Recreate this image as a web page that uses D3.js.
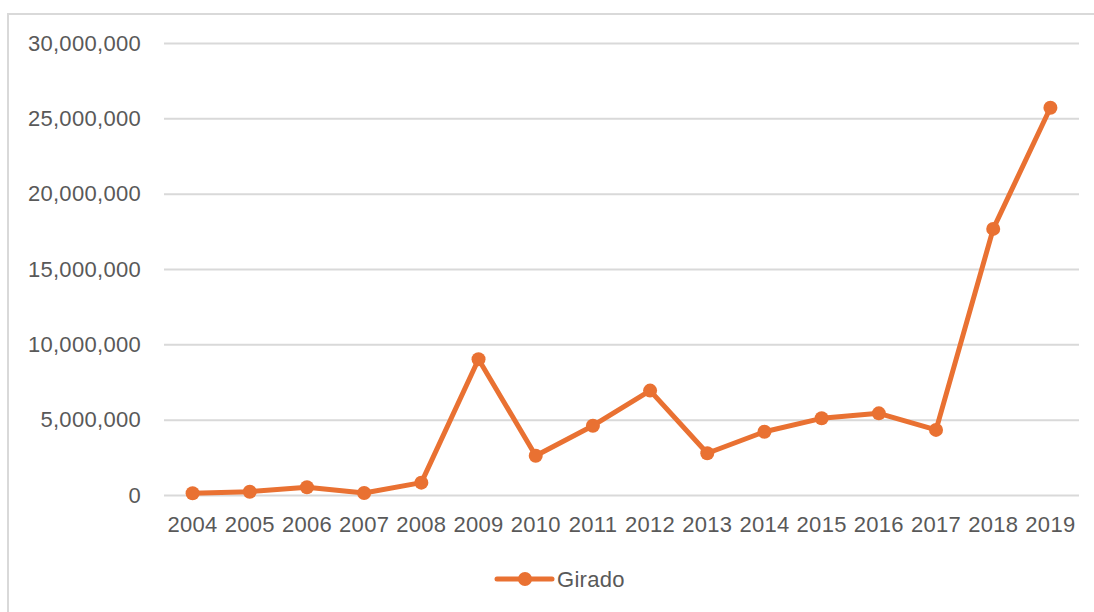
<!DOCTYPE html>
<html>
<head>
<meta charset="utf-8">
<script src="https://cdn.jsdelivr.net/npm/d3@7"></script>
<style>
body{margin:0;background:#fff;}
svg{display:block;font-family:"Liberation Sans",Arial,sans-serif;}
.grid line{stroke:#d9d9d9;stroke-width:2;}
.grid path{display:none;}
.axis path,.axis line{display:none;}
.axis text{fill:#595959;font-size:22px;letter-spacing:0.3px;}
</style>
</head>
<body>
<svg id="svg" width="1094" height="612"></svg>
<script>
var years=['2004','2005','2006','2007','2008','2009','2010','2011','2012','2013','2014','2015','2016','2017','2018','2019'];
var girado=[120000,220000,510000,130000,820000,9010000,2610000,4600000,6930000,2770000,4200000,5090000,5420000,4320000,17660000,25700000];
var yTicks=[0,5000000,10000000,15000000,20000000,25000000,30000000];
var seriesName='Girado';

var svg=d3.select("#svg");
var color='#E97132';

var padding={top:43,right:15,bottom:117,left:164};
var chartArea={
    "width":1094-padding.left-padding.right,
    "height":612-padding.top-padding.bottom
};

// chart frame (only top and left show in the picture)
svg.append("path")
    .attr("d","M8,612V14H1094")
    .attr("fill","none")
    .attr("stroke","#d9d9d9")
    .attr("stroke-width",2);

var yScale=d3.scaleLinear()
    .domain([0,30000000])
    .range([chartArea.height,0]);

var xScale=d3.scaleBand()
    .domain(years)
    .range([0,chartArea.width]);

var g=svg.append("g")
    .attr('transform','translate('+padding.left+','+padding.top+')');

g.append("g")
    .attr("class","grid")
    .call(d3.axisLeft(yScale)
        .tickValues(yTicks)
        .tickSize(-chartArea.width)
        .tickFormat(""));

g.append("g")
    .attr("class","axis")
    .call(d3.axisLeft(yScale)
        .tickValues(yTicks)
        .tickSize(0)
        .tickPadding(23)
        .tickFormat(d3.format(",")));

g.append("g")
    .attr("class","axis")
    .attr('transform','translate(0,'+chartArea.height+')')
    .call(d3.axisBottom(xScale).tickSize(0).tickPadding(21));

var line=d3.line()
    .x(function(d,i){return xScale(years[i])+xScale.bandwidth()/2;})
    .y(function(d){return yScale(d);});

g.append("path")
    .datum(girado)
    .attr("d",line)
    .attr("fill","none")
    .attr("stroke",color)
    .attr("stroke-width",5)
    .attr("stroke-linejoin","round");

g.selectAll("circle")
    .data(girado)
    .enter().append("circle")
    .attr("cx",function(d,i){return xScale(years[i])+xScale.bandwidth()/2;})
    .attr("cy",function(d){return yScale(d);})
    .attr("r",7)
    .attr("fill",color);

// legend
var legend=svg.append("g").attr('transform','translate(497,579)');
legend.append("line")
    .attr("x1",0).attr("x2",55)
    .attr("stroke",color)
    .attr("stroke-width",5)
    .attr("stroke-linecap","round");
legend.append("circle")
    .attr("cx",28).attr("r",7)
    .attr("fill",color);
legend.append("text")
    .attr("x",60).attr("y",7.5)
    .attr("fill","#595959")
    .style("font-size","22px")
    .style("letter-spacing","0.3px")
    .text(seriesName);
</script>
</body>
</html>
